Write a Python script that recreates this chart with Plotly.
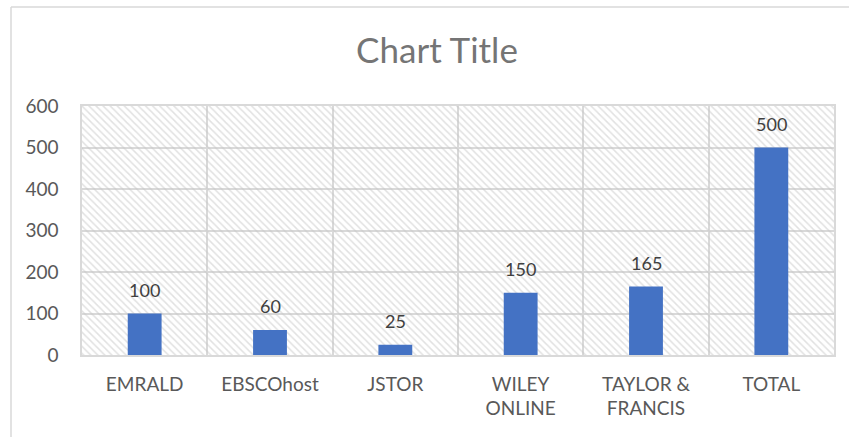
import plotly.graph_objects as go

categories = ['EMRALD', 'EBSCOhost', 'JSTOR', 'WILEY<br>ONLINE', 'TAYLOR &<br>FRANCIS', 'TOTAL']
values = [100, 60, 25, 150, 165, 500]
y_ticks = [0, 100, 200, 300, 400, 500, 600]

W, H = 849, 437
L, R, T, B = 82, 15, 106, 82
grid = '#d9d9d9'
font_name = 'Lato'

fig = go.Figure()

# hatched plot area background (one transparent bar per category)
fig.add_trace(go.Bar(
    x=categories,
    y=[max(y_ticks)] * len(categories),
    width=1,
    marker=dict(
        color='rgba(0,0,0,0)',
        line=dict(width=0),
        pattern=dict(shape='\\', fgcolor='#c4c4c4', bgcolor='rgba(0,0,0,0)',
                     size=5, solidity=0.3),
    ),
    hoverinfo='skip',
    showlegend=False,
))

fig.add_trace(go.Bar(
    x=categories,
    y=values,
    width=0.27,
    marker=dict(color='#4472C4', line=dict(width=0)),
    showlegend=False,
))

# data labels
for c, v in zip(categories, values):
    fig.add_annotation(x=c, y=v, text=str(v), showarrow=False,
                       yanchor='bottom', yshift=11,
                       font=dict(family=font_name, size=18, color='#404040'))

# chart area border (left and top edges visible)
px_x = lambda p: (p - L) / (W - L - R)
px_y = lambda p: (H - B - p) / (H - T - B)
fig.add_shape(type='line', xref='paper', yref='paper',
              x0=px_x(11), x1=px_x(11), y0=px_y(H + 5), y1=px_y(7),
              line=dict(color=grid, width=1.5))
fig.add_shape(type='line', xref='paper', yref='paper',
              x0=px_x(11), x1=px_x(W + 5), y0=px_y(7), y1=px_y(7),
              line=dict(color=grid, width=1.5))

fig.update_layout(
    width=W, height=H,
    margin=dict(l=L, r=R, t=T, b=B),
    barmode='overlay',
    paper_bgcolor='white',
    plot_bgcolor='white',
    font=dict(family=font_name, size=19, color='#595959'),
    title=dict(text='Chart Title', x=437 / W, xanchor='center',
               y=1 - 51 / H, yanchor='middle',
               font=dict(family=font_name, size=35, color='#757575')),
    xaxis=dict(
        tickson='boundaries', showgrid=True, gridcolor=grid, gridwidth=1.5,
        showline=True, linecolor=grid, linewidth=1.5, mirror=True,
        ticks='', ticklabelstandoff=11, range=[-0.5, 5.5],
    ),
    yaxis=dict(
        range=[0, 600], tickvals=y_ticks, showgrid=True, gridcolor=grid, gridwidth=1.5,
        showline=True, linecolor=grid, linewidth=1.5, mirror=True,
        ticks='', ticklabelstandoff=18, zeroline=False,
    ),
)

fig.write_html('out.html', config={'displayModeBar': False},
               post_script="document.body.style.margin='0';")
